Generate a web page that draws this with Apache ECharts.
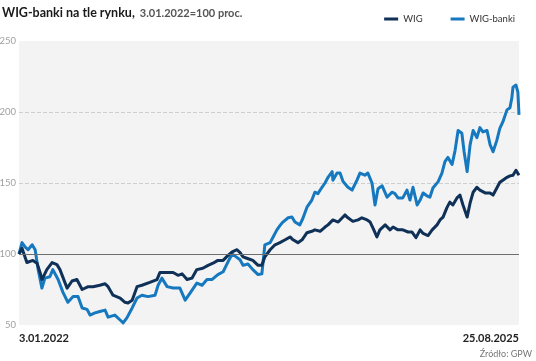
<!DOCTYPE html>
<html><head><meta charset="utf-8">
<script src="https://cdn.jsdelivr.net/npm/echarts@6/dist/echarts.min.js"></script>
<style>html,body{margin:0;padding:0;background:#fff}#c{width:536px;height:361px}</style>
</head><body><div id="c"></div>
<script>
// Days since 3.01.2022 and index values (3.01.2022 = 100)
const wigDay = [0,8,21,37,48,56,61,74,88,101,109,122,128,141,154,168,184,197,215,229,237,250,269,282,290,301,314,327,348,367,375,394,410,423,434,447,460,473,489,503,516,529,543,556,567,580,588,596,606,622,636,646,654,668,681,694,708,721,729,742,753,766,779,787,801,814,822,835,849,867,875,888,902,912,926,934,942,952,960,974,987,995,1008,1021,1035,1045,1056,1067,1075,1088,1099,1112,1120,1128,1138,1146,1154,1165,1173,1181,1192,1200,1208,1218,1226,1240,1253,1261,1271,1279,1287,1298,1306,1314,1322,1330];
const wigVal = [100,104,94,95.5,93.5,87,82,89,94,92.5,89,80,76,81,82,75,77,77,78,79,77,71,69,66,65.5,67.5,77,78,80,82,87,87,87,85,86,82,83,89,90,92,93.5,95.5,95.5,99,101.5,103,101,98,97,95.5,92,92,98,103,106.5,108,110,112,110,108,110,115,116,117,116,119,120.5,124,122.5,127.5,125.5,123,124,125.5,124,122.5,118,112,117,120.5,117,119,117,117,115.5,115.5,111.5,117,114.5,113,117,120.5,124,126,132.5,136.5,134.5,139.5,141.5,134.5,126,136,143.5,147,145,143,143,141.5,146.5,150.5,152,154,155,155.5,159,155.5];
const bankDay = [0,8,16,24,35,43,51,61,69,82,90,104,117,130,144,157,168,181,189,202,215,229,237,255,269,277,287,301,314,327,343,362,370,380,394,410,428,442,455,473,487,500,513,529,543,556,567,575,588,596,609,622,636,646,654,668,676,686,694,702,716,726,734,747,755,766,779,787,795,806,814,822,833,835,846,854,862,875,886,899,907,920,928,939,947,955,966,979,992,1000,1008,1021,1032,1040,1048,1059,1067,1075,1085,1093,1101,1115,1125,1133,1141,1152,1160,1168,1178,1184,1192,1200,1208,1218,1226,1234,1245,1253,1261,1271,1279,1287,1298,1306,1311,1314,1322,1327,1330];
const bankVal = [100,108,105,103,106.5,103,89,76,83,84,89,82,73,66,70,70,62,61,57,58.5,59.5,60.5,55.5,57,53.5,51.5,55,62,69,71,70,71,78,83,77,76,76,67.5,72.5,79.5,78,82,82,85.5,87.5,94.5,100,98.5,96,92,93,89,85.5,86,106.5,108,112,117,120,122.5,125.5,126,122.5,120.5,125,133,138,143.5,142.5,147,150,154,158,152,157,157,151,147,145,152,157,155.5,157,150,134.5,146,148,140,143.5,142.5,139.5,139.5,145,138,147,134.5,138,143,141,140,146.5,151,157,165,168,163,173,187,185,172,158,177,187,182,189,186,187,177,172,180,188.5,193,201.5,203,210,217.5,219,214,198];
const xTickLabels = ['3.01.2022', '25.08.2025'];
const seriesNames = ['WIG', 'WIG-banki'];
const baseLine = 100;

const FONT = 'Lato, sans-serif';
const zip = (a, b) => a.map((d, i) => [d, b[i]]);
const chart = echarts.init(document.getElementById('c'), null, {renderer: 'canvas'});
chart.setOption({
  animation: false,
  title: [{
    text: '{b|WIG-banki na tle rynku,} {n|3.01.2022=100 proc.}',
    left: 2, top: 4, padding: 0,
    textStyle: {rich: {
      b: {fontFamily: FONT, fontWeight: 'bold', fontSize: 12.5, color: '#1a1a1a'},
      n: {fontFamily: FONT, fontSize: 11, color: '#555'}
    }}
  }, {
    text: 'Źródło: GPW', right: 4, bottom: 2, padding: 0,
    textStyle: {fontFamily: FONT, fontSize: 9, fontWeight: 'normal', color: '#777'}
  }],
  legend: {
    data: seriesNames, right: 21, top: 14, icon: 'rect', itemWidth: 14, itemHeight: 3, itemGap: 28, padding: 0,
    textStyle: {fontFamily: FONT, fontSize: 9.5, color: '#333'}
  },
  grid: {left: 19, right: 17, top: 41, bottom: 36, show: true, backgroundColor: '#f3f3f4', borderWidth: 0, outerBoundsMode: 'none', containLabel: false},
  xAxis: {
    type: 'value', min: 0, max: 1330, interval: 1330,
    axisLine: {show: false}, axisTick: {show: false}, splitLine: {show: false},
    axisLabel: {
      margin: 8, fontFamily: FONT, fontSize: 11, fontWeight: 'bold', color: '#222',
      alignMinLabel: 'left', alignMaxLabel: 'right',
      formatter: v => v === 0 ? xTickLabels[0] : xTickLabels[1]
    }
  },
  yAxis: {
    type: 'value', min: 50, max: 250, interval: 50,
    axisLine: {show: false}, axisTick: {show: false},
    axisLabel: {margin: 3, fontFamily: FONT, fontSize: 9.5, color: '#a0a0a0'},
    splitLine: {show: true, lineStyle: {type: 'dashed', width: 1, color: ['rgba(0,0,0,0)', 'rgba(0,0,0,0)', '#cfcfcf', '#cfcfcf', 'rgba(0,0,0,0)']}}
  },
  series: [{
    type: 'line', data: [], z: 1, silent: true,
    markLine: {symbol: 'none', silent: true, label: {show: false}, lineStyle: {type: 'solid', color: '#6e6e6e', width: 1.2}, data: [{yAxis: baseLine}]}
  }, {
    name: seriesNames[0], type: 'line', z: 3, showSymbol: false, data: zip(wigDay, wigVal),
    itemStyle: {color: '#0f3057'}, lineStyle: {width: 3, color: '#0f3057', join: 'round'}
  }, {
    name: seriesNames[1], type: 'line', z: 2, showSymbol: false, data: zip(bankDay, bankVal),
    itemStyle: {color: '#1679bf'}, lineStyle: {width: 3, color: '#1679bf', join: 'round'}
  }]
});
</script></body></html>
